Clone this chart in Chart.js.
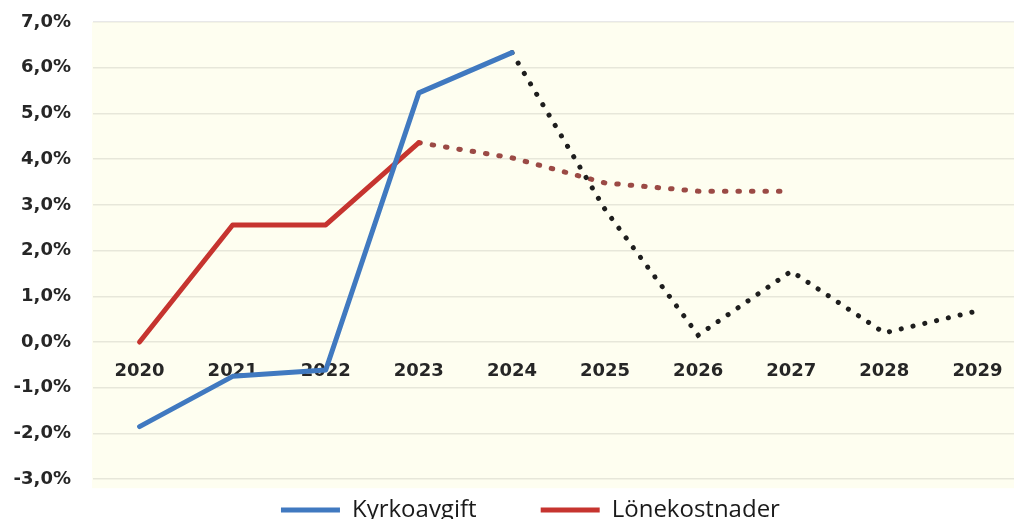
<!DOCTYPE html>
<html><head><meta charset="utf-8">
<script src="https://cdn.jsdelivr.net/npm/chart.js@4.4.1/dist/chart.umd.min.js"></script>
<style>html,body{margin:0;padding:0;background:#fff;overflow:hidden;width:1014px;height:519px}canvas{display:block}</style>
</head><body><canvas id="c" width="1024" height="532"></canvas>
<script>
const years = ['2020','2021','2022','2023','2024','2025','2026','2027','2028','2029'];
const seriesNames = ['Kyrkoavgift', 'Lönekostnader'];
const kyrkoavgiftOutcome  = [-1.85, -0.75, -0.61, 5.45, 6.33, null, null, null, null, null];
const kyrkoavgiftForecast = [null, null, null, null, 6.33, 2.9, 0.15, 1.55, 0.2, 0.68];
const lonekostnadOutcome  = [0.0, 2.56, 2.56, 4.36, null, null, null, null, null, null];
const lonekostnadForecast = [null, null, null, 4.36, 4.03, 3.48, 3.3, 3.3, null, null];
const yTicks = [-3, -2, -1, 0, 1, 2, 3, 4, 5, 6, 7];

const BLUE = '#4079c0', RED = '#c6342f', BROWN = '#9b4a45', BLACK = '#1e1e1e', TEXT = '#1a1a1a';

const bgPlugin = {
  id: 'bg',
  beforeDraw(chart) {
    const a = chart.chartArea, ctx = chart.ctx;
    ctx.save();
    ctx.fillStyle = '#fefef0';
    ctx.fillRect(a.left - 1, a.top, chart.width - a.left + 1, a.bottom - a.top + 9);
    ctx.restore();
  }
};

const tickFont = {family: 'DejaVu Sans', weight: 'bold', size: 18};

new Chart(document.getElementById('c'), {
  type: 'line',
  data: {
    labels: years,
    datasets: [
      {label: seriesNames[0], data: kyrkoavgiftOutcome, borderColor: BLUE, borderWidth: 5, pointRadius: 0, borderJoinStyle: 'round', borderCapStyle: 'round'},
      {label: seriesNames[0] + ' prognos', data: kyrkoavgiftForecast, borderColor: BLACK, borderWidth: 5, pointRadius: 0, borderDash: [0.1, 12], borderCapStyle: 'round'},
      {label: seriesNames[1], data: lonekostnadOutcome, borderColor: RED, borderWidth: 5, pointRadius: 0, borderJoinStyle: 'round', borderCapStyle: 'round'},
      {label: seriesNames[1] + ' prognos', data: lonekostnadForecast, borderColor: BROWN, borderWidth: 5, pointRadius: 0, borderDash: [1.5, 12], borderCapStyle: 'round'}
    ]
  },
  options: {
    responsive: false,
    animation: false,
    devicePixelRatio: 1,
    tension: 0,
    layout: {padding: {left: 0, top: 22, right: 0, bottom: 0}},
    plugins: {
      tooltip: {enabled: false},
      legend: {
        position: 'bottom',
        fullSize: false,
        title: {display: true, text: ' ', padding: 0, font: {size: 9}},
        labels: {
          boxWidth: 59,
          boxHeight: 5,
          padding: 8,
          color: TEXT,
          font: {family: 'Open Sans', size: 24},
          generateLabels: () => [
            {text: seriesNames[0] + '         ', fillStyle: BLUE, strokeStyle: BLUE, fontColor: TEXT, lineWidth: 0, hidden: false, datasetIndex: 0},
            {text: seriesNames[1] + '         ', fillStyle: RED, strokeStyle: RED, fontColor: TEXT, lineWidth: 0, hidden: false, datasetIndex: 2}
          ]
        }
      }
    },
    scales: {
      x: {
        type: 'category',
        offset: true,
        position: {y: 0},
        grid: {display: false, drawTicks: false},
        border: {display: false},
        ticks: {color: '#262626', font: tickFont, padding: 18, maxRotation: 0, autoSkip: false},
        afterFit(s) { s.height = 0; }
      },
      y: {
        min: -3, max: 7,
        afterBuildTicks(s) { s.ticks = yTicks.map(v => ({value: v})); },
        grid: {color: 'rgba(0,0,0,0.09)', lineWidth: 1.6, drawTicks: false},
        border: {display: false},
        ticks: {color: '#262626', font: tickFont, padding: 22, callback: v => v.toFixed(1).replace('.', ',') + '%'},
        afterFit(s) { s.width = 93; s.paddingTop = 0; s.paddingBottom = 0; }
      }
    }
  },
  plugins: [bgPlugin]
});
</script>
</body></html>
